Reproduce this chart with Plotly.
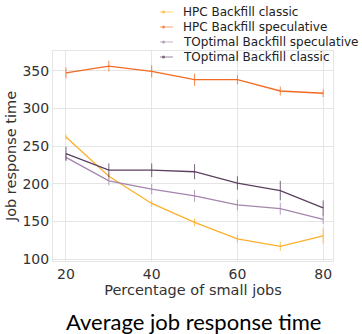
import plotly.graph_objects as go

x = [20, 30, 40, 50, 60, 70, 80]
hpc_classic = [262, 210, 174, 149, 127, 117, 131]
hpc_classic_err = [3, 4, 4, 5, 5, 6, 10]
hpc_spec = [347, 356, 349, 338, 338, 323, 320]
hpc_spec_err = [7, 7, 8, 8, 6, 6, 5]
topt_spec = [235, 204, 193, 184, 172, 167, 153]
topt_spec_err = [5, 6, 7, 8, 7, 8, 6]
topt_classic = [240, 218, 218, 216, 201, 191, 168]
topt_classic_err = [9, 9, 9, 10, 9, 13, 10]

series = [
    ("HPC Backfill classic", hpc_classic, hpc_classic_err, "#fdb02a"),
    ("HPC Backfill speculative", hpc_spec, hpc_spec_err, "#f26b22"),
    ("TOptimal Backfill speculative", topt_spec, topt_spec_err, "#a486ad"),
    ("TOptimal Backfill classic", topt_classic, topt_classic_err, "#5b3f5f"),
]

W, H = 362, 334
L, R, T, B = 53, 29, 51, 73
pw, ph = W - L - R, H - T - B

def px(xp):
    return (xp - L) / pw

def py(yp):
    return (H - B - yp) / ph

fig = go.Figure()
for name, ys, err, col in series:
    fig.add_trace(go.Scatter(
        x=x, y=ys, name=name, mode="lines",
        line=dict(color=col, width=1.3),
        error_y=dict(type="data", array=err, visible=True, color=col, thickness=0.8, width=0),
        showlegend=False,
    ))

# custom legend (compact spacing)
shapes = []
annotations = []
leg_y = [12, 27, 42, 57]
for (name, ys, err, col), ly in zip(series, leg_y):
    shapes.append(dict(type="line", xref="paper", yref="paper",
                       x0=px(160), x1=px(173), y0=py(ly), y1=py(ly),
                       line=dict(color=col, width=1), opacity=0.6))
    shapes.append(dict(type="circle", xref="paper", yref="paper",
                       x0=px(162), x1=px(165), y0=py(ly - 1.5), y1=py(ly + 1.5),
                       line=dict(color=col, width=0), fillcolor=col, opacity=0.7))
    annotations.append(dict(text=name, xref="paper", yref="paper", x=px(181), y=py(ly),
                            xanchor="left", yanchor="middle", showarrow=False,
                            font=dict(family="DejaVu Sans", size=12, color="#222")))

annotations.append(dict(text="Average job response time", x=0.5, xref="paper",
                        y=py(321), yref="paper", showarrow=False,
                        xanchor="center", yanchor="middle",
                        font=dict(family="Lato", size=22, color="black")))

axis_common = dict(
    showgrid=True, gridcolor="#e5e5e5", gridwidth=1,
    showline=True, linecolor="#e5e5e5", linewidth=1, mirror=True,
    zeroline=False, ticks="", automargin=False,
    tickfont=dict(family="DejaVu Sans", size=14, color="#333"),
)
fig.update_xaxes(range=[16.97, 82.3], tickvals=[20, 40, 60, 80],
                 title=dict(text="Percentage of small jobs",
                            font=dict(family="DejaVu Sans", size=14.5, color="#333"), standoff=2),
                 **axis_common)
fig.update_yaxes(range=[97.7, 376], tickvals=[100, 150, 200, 250, 300, 350],
                 title=dict(text="Job response time",
                            font=dict(family="DejaVu Sans", size=14.5, color="#333"), standoff=2),
                 **axis_common)

fig.update_layout(
    width=W, height=H,
    margin=dict(l=L, r=R, t=T, b=B),
    paper_bgcolor="white", plot_bgcolor="white",
    showlegend=False,
    shapes=shapes,
    annotations=annotations,
)
fig.write_html("out.html", config={"displayModeBar": False},
               post_script="document.body.style.margin='0';document.body.style.overflow='hidden';")
